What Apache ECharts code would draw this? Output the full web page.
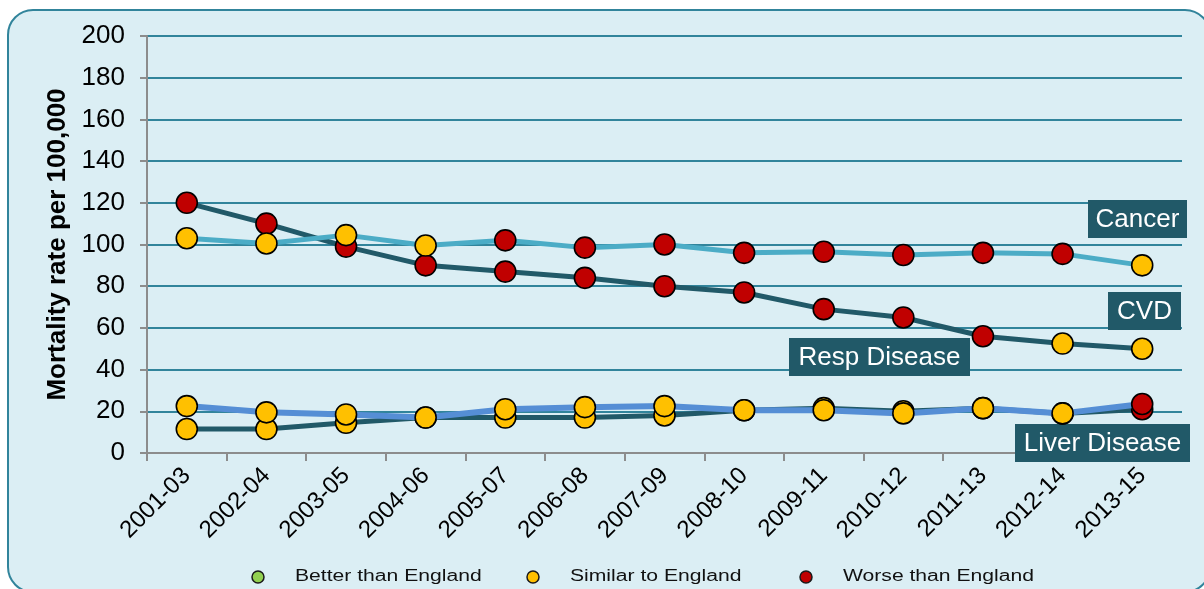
<!DOCTYPE html>
<html>
<head>
<meta charset="utf-8">
<title>Mortality rate per 100,000</title>
<script src="https://cdn.jsdelivr.net/npm/echarts@6/dist/echarts.min.js"></script>
<style>
  html, body { margin: 0; padding: 0; background: #ffffff; }
  #chart { width: 1204px; height: 589px; }
</style>
</head>
<body>
<div id="chart"></div>
<script>
// Rolling three-year periods
const periods = ['2001-03', '2002-04', '2003-05', '2004-06', '2005-07', '2006-08',
  '2007-09', '2008-10', '2009-11', '2010-12', '2011-13', '2012-14', '2013-15'];

// Mortality rate per 100,000
const cancerRate = [103, 100.5, 104.5, 99.5, 102, 98.5, 100, 96, 96.5, 95, 96, 95.5, 90];
const cvdRate    = [120, 110, 99, 90, 87, 84, 80, 77, 69, 65, 56, 52.5, 50];
const respRate   = [22.5, 19.5, 18.5, 17, 21, 22, 22.5, 20.5, 20.5, 19, 21.5, 19, 23.5];
const liverRate  = [11.5, 11.5, 14.5, 17, 17, 17, 18, 20.5, 21.5, 20, 21.5, 19, 21];

// Comparison with England: B = better, S = similar, W = worse
const cancerStatus = ['S', 'S', 'S', 'S', 'W', 'W', 'W', 'W', 'W', 'W', 'W', 'W', 'S'];
const cvdStatus    = ['W', 'W', 'W', 'W', 'W', 'W', 'W', 'W', 'W', 'W', 'W', 'S', 'S'];
const respStatus   = ['S', 'S', 'S', 'S', 'S', 'S', 'S', 'S', 'S', 'S', 'S', 'S', 'W'];
const liverStatus  = ['S', 'S', 'S', 'S', 'S', 'S', 'S', 'S', 'S', 'S', 'S', 'S', 'W'];

// Y axis ticks
const yMin = 0, yMax = 200, yStep = 20;

const statusColour = { B: '#92d050', S: '#ffc000', W: '#c00000' };
const legendItems = [
  { code: 'B', text: 'Better than England' },
  { code: 'S', text: 'Similar to England' },
  { code: 'W', text: 'Worse than England' }
];

const FONT = 'Arial, "Liberation Sans", Helvetica, sans-serif';

function points(values, status) {
  return values.map((v, i) => ({
    value: v,
    itemStyle: { color: statusColour[status[i]] }
  }));
}

function lineSeries(name, values, status, colour, width, z) {
  return {
    name: name,
    type: 'line',
    data: points(values, status),
    symbol: 'circle',
    symbolSize: 21,
    z: z,
    lineStyle: { color: colour, width: width },
    itemStyle: { borderColor: '#000000', borderWidth: 1.6 },
    emphasis: { disabled: true },
    animation: false
  };
}

// Series name tags
function tag(text, x, y, w, h) {
  return {
    type: 'group',
    x: x, y: y,
    children: [
      { type: 'rect', z: 1, shape: { x: 0, y: 0, width: w, height: h }, style: { fill: '#215968' } },
      {
        type: 'text', z: 1, x: w / 2, y: h / 2 + 1,
        style: { text: text, fill: '#ffffff', font: '26px ' + FONT, align: 'center', verticalAlign: 'middle' }
      }
    ]
  };
}

// Legend row along the bottom of the panel
function legendRow() {
  const starts = [258, 533, 806];
  const out = [];
  legendItems.forEach((item, i) => {
    out.push({
      type: 'circle', z: 5,
      shape: { cx: starts[i], cy: 577, r: 6 },
      style: { fill: statusColour[item.code], stroke: '#1a1a1a', lineWidth: 1.5 }
    });
    out.push({
      type: 'text', z: 5,
      x: starts[i] + 37, y: 577, scaleX: 1.32,
      style: { text: item.text, fill: '#111111', font: '16px ' + FONT, verticalAlign: 'middle' }
    });
  });
  return out;
}

const chart = echarts.init(document.getElementById('chart'), null, { renderer: 'canvas' });

chart.setOption({
  animation: false,
  backgroundColor: '#ffffff',
  grid: { left: 147, right: 22, top: 36, bottom: 136, containLabel: false },
  xAxis: {
    type: 'category',
    data: periods,
    boundaryGap: true,
    axisLine: { lineStyle: { color: '#8c8c8c', width: 2 } },
    axisTick: { show: true, length: 8, lineStyle: { color: '#8c8c8c', width: 2 } },
    axisLabel: { rotate: 45, margin: 19, color: '#000000', fontSize: 24, fontFamily: FONT },
    splitLine: { show: false }
  },
  yAxis: {
    type: 'value',
    min: yMin, max: yMax, interval: yStep,
    name: 'Mortality rate per 100,000',
    nameLocation: 'middle',
    nameGap: 76,
    nameTextStyle: { fontSize: 26, fontWeight: 'bold', color: '#000000', fontFamily: FONT },
    axisLine: { show: true, lineStyle: { color: '#8c8c8c', width: 2 } },
    axisTick: { show: true, length: 7, lineStyle: { color: '#8c8c8c', width: 2 } },
    axisLabel: { margin: 22, color: '#000000', fontSize: 26, fontFamily: FONT },
    splitLine: { show: true, lineStyle: { color: '#31849b', width: 2 } }
  },
  graphic: [
    {
      type: 'rect', z: -10, silent: true,
      shape: { x: 8, y: 10, width: 1202, height: 582, r: 25 },
      style: { fill: '#dbeef4', stroke: '#31849b', lineWidth: 2 }
    },
    tag('Cancer', 1088, 200, 99, 38),
    tag('CVD', 1108, 292, 73, 38),
    tag('Resp Disease', 789, 338, 181, 38),
    tag('Liver Disease', 1015, 424, 175, 38)
  ].concat(legendRow()),
  series: [
    lineSeries('CVD', cvdRate, cvdStatus, '#215968', 5, 2),
    lineSeries('Cancer', cancerRate, cancerStatus, '#4bacc6', 5, 3),
    lineSeries('Liver Disease', liverRate, liverStatus, '#215968', 5, 4),
    lineSeries('Resp Disease', respRate, respStatus, '#558ed5', 6, 5)
  ]
});
</script>
</body>
</html>
